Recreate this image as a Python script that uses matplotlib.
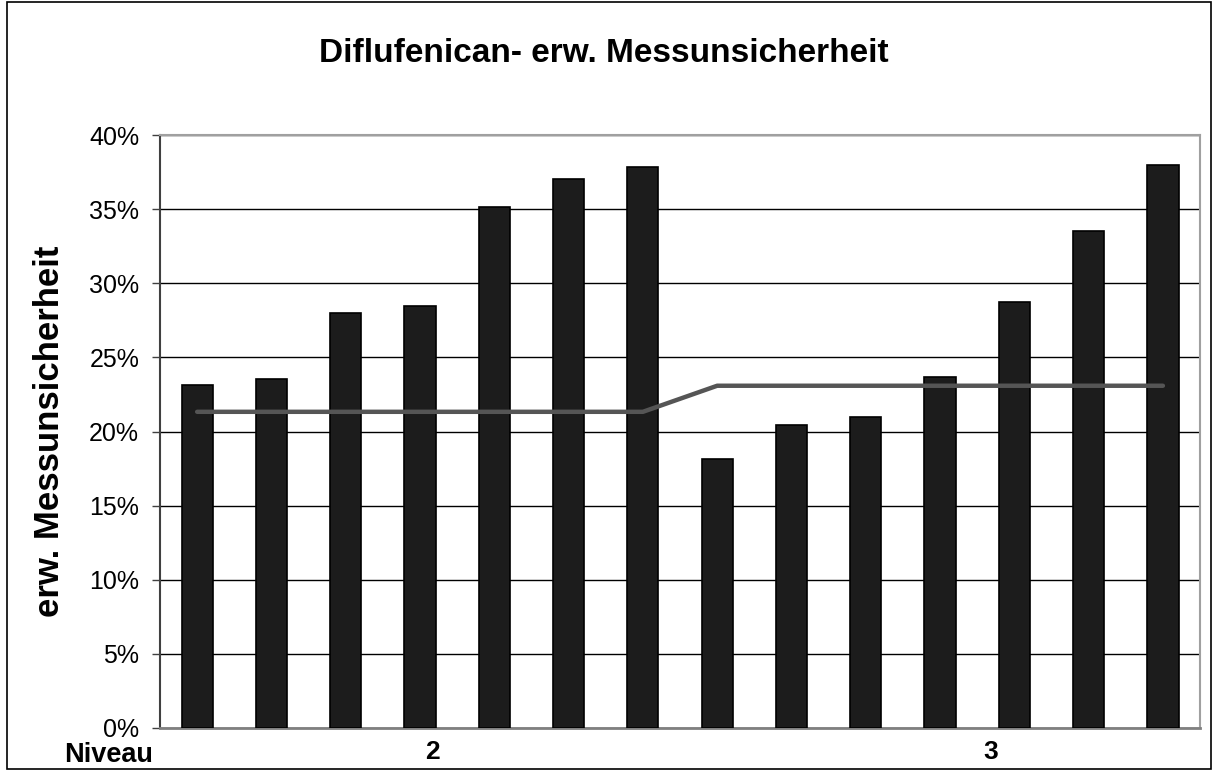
import matplotlib.pyplot as plt
from matplotlib.patches import Rectangle
from matplotlib.ticker import FuncFormatter

# measured expanded uncertainty per sample (%)
values = [23.13, 23.55, 28.0, 28.5, 35.13, 37.03, 37.83,
          18.17, 20.42, 20.98, 23.67, 28.76, 33.53, 37.98]
# mean per level (%)
level_mean = [21.33, 21.33, 21.33, 21.33, 21.33, 21.33, 21.33,
              23.09, 23.09, 23.09, 23.09, 23.09, 23.09, 23.09]
group_labels = ["2", "3"]
group_pos = [3.17, 10.68]
y_ticks = [0, 5, 10, 15, 20, 25, 30, 35, 40]

plt.rcParams["font.family"] = ["Liberation Sans", "DejaVu Sans"]

fig = plt.figure(figsize=(12.15, 7.7), dpi=100)
ax = fig.add_axes([0.1317, 0.0549, 0.856, 0.7694])

x = list(range(len(values)))
ax.bar(x, values, width=0.42, color="#1c1c1c", edgecolor="black", linewidth=1.2, zorder=3)
ax.plot(x, level_mean, color="#555555", linewidth=3.2, solid_capstyle="round", zorder=4)

ax.set_xlim(-0.5, len(values) - 0.5)
ax.set_ylim(0, 40)
ax.set_yticks(y_ticks)
ax.yaxis.set_major_formatter(FuncFormatter(lambda v, _: f"{v:.0f}%"))
ax.grid(axis="y", color="black", linewidth=1.0, zorder=0)
ax.tick_params(axis="y", direction="out", length=6, width=1, color="#404040",
               labelsize=18, pad=9)
ax.set_xticks(group_pos)
ax.set_xticklabels(group_labels, fontsize=19, fontweight="bold")
ax.tick_params(axis="x", length=0, pad=9)

for side, color, lw in [("top", "#a0a0a0", 1.5), ("right", "#a0a0a0", 1.5),
                        ("left", "#404040", 1.5), ("bottom", "#808080", 2.0)]:
    ax.spines[side].set_color(color)
    ax.spines[side].set_linewidth(lw)

ax.set_ylabel("erw. Messunsicherheit", fontsize=25, fontweight="bold")
ax.yaxis.set_label_coords(-0.090, 0.5)

fig.text(0.497, 0.930, "Diflufenican- erw. Messunsicherheit",
         ha="center", va="center", fontsize=24, fontweight="bold")
fig.text(0.0897, 0.020, "Niveau", ha="center", va="center",
         fontsize=19.5, fontweight="bold")

fig.patches.append(Rectangle((7 / 1215, 1.5 / 770), 1204 / 1215, 766.5 / 770,
                             transform=fig.transFigure, fill=False,
                             edgecolor="black", linewidth=1.2))

fig.savefig("out.png", dpi=100)
